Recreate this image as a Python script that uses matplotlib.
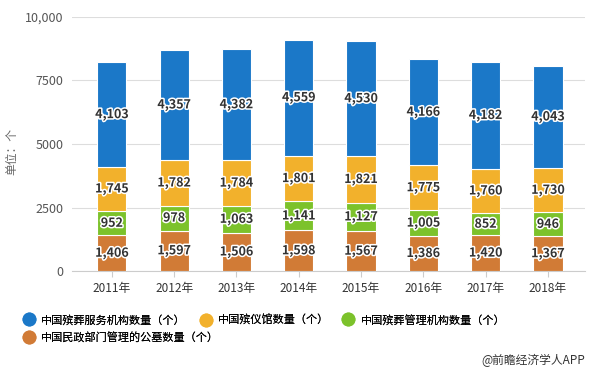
import matplotlib
matplotlib.use("Agg")
import matplotlib.pyplot as plt
import matplotlib.patheffects as pe
import numpy as np

plt.rcParams['font.family'] = ['Noto Sans CJK SC', 'DejaVu Sans']

# 数据
years = ['2011年', '2012年', '2013年', '2014年', '2015年', '2016年', '2017年', '2018年']
cemetery = [1406, 1597, 1506, 1598, 1567, 1386, 1420, 1367]
mgmt = [952, 978, 1063, 1141, 1127, 1005, 852, 946]
funeral_home = [1745, 1782, 1784, 1801, 1821, 1775, 1760, 1730]
service = [4103, 4357, 4382, 4559, 4530, 4166, 4182, 4043]

names = ['中国殡葬服务机构数量（个）', '中国殡仪馆数量（个）',
         '中国殡葬管理机构数量（个）', '中国民政部门管理的公墓数量（个）']
colors = ['#1b78c8', '#f2b12c', '#7cc22b', '#d17b36']

fig = plt.figure(figsize=(5.9, 3.75), dpi=100)
ax = fig.add_axes([0.122, 0.277, 0.87, 0.678])

x = np.arange(len(years))
w = 0.47
series = [cemetery, mgmt, funeral_home, service]
scolors = [colors[3], colors[2], colors[1], colors[0]]
bottom = np.zeros(len(years))
for vals, c in zip(series, scolors):
    vals = np.array(vals)
    ax.bar(x, vals, w, bottom=bottom, color=c, edgecolor='white', linewidth=0.8, zorder=3)
    for xi, b, v in zip(x, bottom, vals):
        ax.text(xi, b + v / 2, f'{v:,}', ha='center', va='center', fontsize=9,
                fontweight='bold', color='#333333', zorder=4,
                path_effects=[pe.withStroke(linewidth=2.2, foreground='white')])
    bottom += vals

ax.set_ylim(0, 10000)
ax.set_xlim(-0.64, 7.6)
ax.set_yticks([0, 2500, 5000, 7500, 10000])
ax.set_yticklabels(['0', '2500', '5000', '7500', '10,000'])
ax.set_xticks(x)
ax.set_xticklabels(years)
ax.tick_params(axis='y', length=0, labelsize=9, colors='#555555', pad=6)
ax.tick_params(axis='x', length=4, color='#cccccc', labelsize=8.5, labelcolor='#333333')
ax.grid(axis='y', color='#dddddd', linewidth=0.8, zorder=0)
for s in ['top', 'right', 'left']:
    ax.spines[s].set_visible(False)
ax.spines['bottom'].set_color('#cccccc')
ax.set_ylabel('单位：个', fontsize=8.5, color='#666666')
ax.yaxis.set_label_coords(-0.105, 0.47)

# 图例
legend_pos = [(0.039, 0.147), (0.339, 0.147), (0.581, 0.147), (0.039, 0.101)]
for name, c, (lx, ly) in zip(names, colors, legend_pos):
    h = plt.Line2D([], [], marker='o', linestyle='', markersize=9, color=c)
    lg = fig.legend([h], [name], loc='center left', bbox_to_anchor=(lx, ly),
                    frameon=False, fontsize=8, handletextpad=0.6,
                    borderaxespad=0, borderpad=0, handlelength=1)
    fig.add_artist(lg)

fig.text(0.992, 0.04, '@前瞻经济学人APP', ha='right', va='center', fontsize=8.5, color='#333333')

fig.savefig('out.png', dpi=100)
